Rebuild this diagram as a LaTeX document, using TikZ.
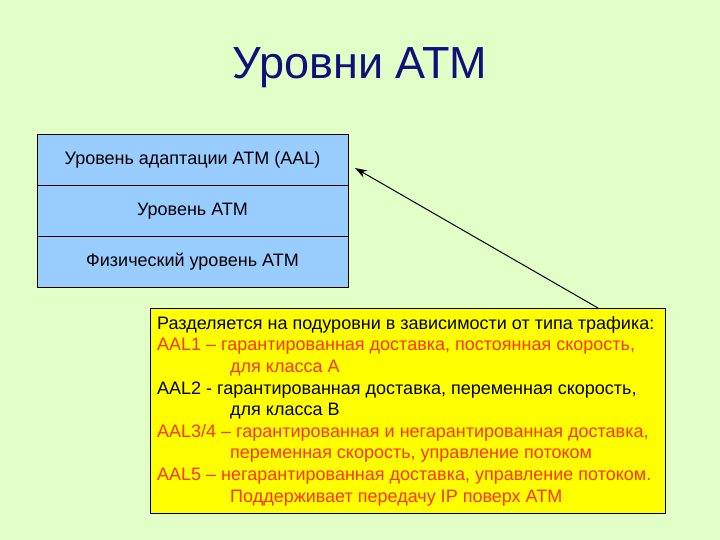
\documentclass[tikz,border=0pt]{standalone}
\usepackage{fontspec}
\setmainfont{Liberation Sans}
\usetikzlibrary{arrows.meta}
\definecolor{bg}{HTML}{E3FFC8}
\definecolor{blu}{HTML}{99CCFF}
\definecolor{ylw}{HTML}{FFFF00}
\definecolor{org}{HTML}{FF3300}
\definecolor{ttl}{HTML}{10107A}
\tikzset{layer/.style={draw=black,fill=blu,minimum width=311pt,minimum height=51pt,inner sep=0pt,font=\fontsize{18}{21}\selectfont}}
\begin{document}
\begin{tikzpicture}[x=1pt,y=-1pt]
\fill[bg] (0,0) rectangle (720,540);
\node[font=\fontsize{45}{54}\selectfont,text=ttl] (title) at (360,68) {Уровни АТМ};
\node[layer] (l1) at (192.5,160) {Уровень адаптации АТМ (AAL)};
\node[layer] (l2) at (192.5,211) {Уровень АТМ};
\node[layer] (l3) at (192.5,262) {Физический уровень АТМ};
\node[draw=black,fill=ylw,minimum width=515pt,minimum height=205pt,inner sep=0pt] (box) at (407.5,410.5) {};
\node[anchor=north west,inner sep=0pt,align=left,font=\fontsize{18}{21.6}\selectfont] (txt) at (157,316) {%
Разделяется на подуровни в зависимости от типа трафика:\\
\textcolor{org}{AAL1 – гарантированная доставка, постоянная скорость,}\\
\textcolor{org}{\hspace*{73pt}для класса A}\\
AAL2 - гарантированная доставка, переменная скорость,\\
\hspace*{73pt}для класса B\\
\textcolor{org}{AAL3/4 – гарантированная и негарантированная доставка,}\\
\textcolor{org}{\hspace*{73pt}переменная скорость, управление потоком}\\
\textcolor{org}{AAL5 – негарантированная доставка, управление потоком.}\\
\textcolor{org}{\hspace*{73pt}Поддерживает передачу IP поверх ATM}};
\coordinate (s) at (598,308);
\coordinate (e) at (355,168);
\draw[line width=1pt,-{Stealth[length=12pt,width=8pt]}] (s) -- (e);
\end{tikzpicture}
\end{document}
